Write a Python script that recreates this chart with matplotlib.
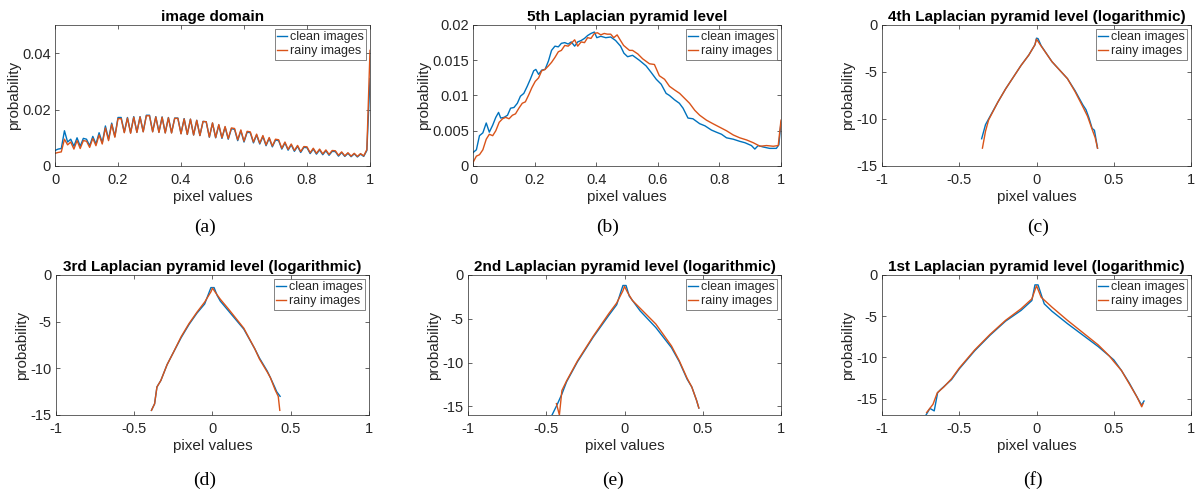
import numpy as np
import matplotlib
matplotlib.use('Agg')
import matplotlib.pyplot as plt
from matplotlib.ticker import FuncFormatter

plt.rcParams['font.family'] = ['Liberation Sans', 'DejaVu Sans']
plt.rcParams['axes.unicode_minus'] = False

BLUE = '#0072BD'
ORANGE = '#D95319'

# (a) image domain histogram, 101 bins over [0, 1]
bins_a = np.linspace(0, 1, 101)
clean_a = [0.0055, 0.0060, 0.0062, 0.0125, 0.0085, 0.0095, 0.0070, 0.0100, 0.0070, 0.0098,
           0.0095, 0.0072, 0.0105, 0.0078, 0.0118, 0.0082, 0.0142, 0.0095, 0.0152, 0.0105,
           0.0172, 0.0172, 0.0120, 0.0172, 0.0118, 0.0175, 0.0120, 0.0175, 0.0122, 0.0180,
           0.0180, 0.0122, 0.0175, 0.0120, 0.0174, 0.0118, 0.0172, 0.0118, 0.0170, 0.0170,
           0.0115, 0.0168, 0.0112, 0.0166, 0.0110, 0.0162, 0.0108, 0.0158, 0.0157, 0.0102,
           0.0152, 0.0100, 0.0145, 0.0098, 0.0138, 0.0095, 0.0132, 0.0130, 0.0090, 0.0125,
           0.0085, 0.0120, 0.0118, 0.0082, 0.0110, 0.0078, 0.0105, 0.0072, 0.0098, 0.0068,
           0.0092, 0.0090, 0.0060, 0.0082, 0.0056, 0.0075, 0.0052, 0.0070, 0.0048, 0.0066,
           0.0065, 0.0044, 0.0060, 0.0042, 0.0057, 0.0040, 0.0054, 0.0038, 0.0052, 0.0051,
           0.0035, 0.0048, 0.0034, 0.0045, 0.0033, 0.0043, 0.0032, 0.0042, 0.0034, 0.0055,
           0.0310]
rainy_a = [0.0045, 0.0048, 0.0050, 0.0095, 0.0075, 0.0085, 0.0060, 0.0090, 0.0062, 0.0090,
           0.0088, 0.0066, 0.0098, 0.0072, 0.0110, 0.0078, 0.0135, 0.0090, 0.0148, 0.0102,
           0.0168, 0.0168, 0.0118, 0.0170, 0.0116, 0.0173, 0.0119, 0.0174, 0.0121, 0.0178,
           0.0178, 0.0121, 0.0174, 0.0119, 0.0173, 0.0117, 0.0171, 0.0117, 0.0169, 0.0169,
           0.0114, 0.0167, 0.0112, 0.0166, 0.0110, 0.0162, 0.0108, 0.0158, 0.0157, 0.0103,
           0.0153, 0.0101, 0.0147, 0.0100, 0.0140, 0.0097, 0.0135, 0.0133, 0.0093, 0.0128,
           0.0088, 0.0123, 0.0121, 0.0085, 0.0113, 0.0081, 0.0108, 0.0075, 0.0101, 0.0071,
           0.0095, 0.0093, 0.0063, 0.0085, 0.0059, 0.0078, 0.0055, 0.0073, 0.0051, 0.0069,
           0.0068, 0.0047, 0.0063, 0.0045, 0.0060, 0.0043, 0.0057, 0.0041, 0.0055, 0.0054,
           0.0038, 0.0050, 0.0036, 0.0047, 0.0035, 0.0045, 0.0034, 0.0044, 0.0036, 0.0058,
           0.0410]

# (b) 5th Laplacian pyramid level
x_clean_b = [0.000, 0.011, 0.021, 0.032, 0.043, 0.053, 0.064, 0.074, 0.083, 0.090, 0.101, 0.112,
             0.122, 0.133, 0.144, 0.154, 0.165, 0.176, 0.186, 0.197, 0.204, 0.213, 0.223, 0.234,
             0.245, 0.255, 0.266, 0.277, 0.287, 0.298, 0.309, 0.319, 0.330, 0.340, 0.351, 0.362,
             0.372, 0.383, 0.394, 0.402, 0.415, 0.431, 0.447, 0.463, 0.479, 0.490, 0.502, 0.518,
             0.540, 0.562, 0.578, 0.595, 0.611, 0.627, 0.638, 0.654, 0.670, 0.682, 0.698, 0.714,
             0.736, 0.753, 0.774, 0.790, 0.807, 0.823, 0.845, 0.866, 0.883, 0.904, 0.915, 0.926,
             0.942, 0.963, 0.985, 0.993, 1.000]
y_clean_b = [0.0019, 0.0023, 0.0043, 0.0047, 0.0061, 0.0048, 0.0058, 0.0069, 0.0076, 0.0068, 0.0069, 0.0072,
             0.0082, 0.0083, 0.0089, 0.0099, 0.0103, 0.0113, 0.0123, 0.0135, 0.0137, 0.0130, 0.0136, 0.0137,
             0.0149, 0.0164, 0.0170, 0.0169, 0.0174, 0.0175, 0.0173, 0.0176, 0.0170, 0.0176, 0.0178, 0.0181,
             0.0185, 0.0188, 0.0190, 0.0182, 0.0184, 0.0182, 0.0183, 0.0178, 0.0170, 0.0160, 0.0155, 0.0157,
             0.0150, 0.0142, 0.0133, 0.0123, 0.0116, 0.0103, 0.0100, 0.0094, 0.0089, 0.0082, 0.0068, 0.0067,
             0.0060, 0.0057, 0.0051, 0.0048, 0.0045, 0.0040, 0.0038, 0.0035, 0.0033, 0.0029, 0.0024, 0.0029,
             0.0027, 0.0025, 0.0025, 0.0030, 0.0062]
x_rainy_b = [0.000, 0.011, 0.021, 0.032, 0.043, 0.053, 0.064, 0.074, 0.085, 0.096, 0.106, 0.117,
             0.128, 0.138, 0.149, 0.160, 0.170, 0.181, 0.191, 0.202, 0.213, 0.223, 0.234, 0.245,
             0.255, 0.266, 0.277, 0.287, 0.298, 0.309, 0.319, 0.330, 0.340, 0.351, 0.362, 0.372,
             0.383, 0.394, 0.404, 0.415, 0.426, 0.436, 0.447, 0.457, 0.468, 0.479, 0.489, 0.508,
             0.518, 0.535, 0.551, 0.573, 0.589, 0.605, 0.622, 0.638, 0.654, 0.671, 0.687, 0.703,
             0.720, 0.736, 0.758, 0.779, 0.801, 0.823, 0.845, 0.866, 0.888, 0.910, 0.932, 0.953,
             0.975, 0.991, 1.000]
y_rainy_b = [0.0005, 0.0014, 0.0016, 0.0023, 0.0038, 0.0045, 0.0043, 0.0050, 0.0062, 0.0067, 0.0069, 0.0067,
             0.0072, 0.0074, 0.0082, 0.0089, 0.0091, 0.0101, 0.0111, 0.0120, 0.0125, 0.0135, 0.0137, 0.0142,
             0.0147, 0.0154, 0.0162, 0.0164, 0.0171, 0.0170, 0.0174, 0.0179, 0.0170, 0.0176, 0.0175, 0.0182,
             0.0181, 0.0188, 0.0189, 0.0186, 0.0188, 0.0187, 0.0187, 0.0182, 0.0186, 0.0178, 0.0171, 0.0164,
             0.0164, 0.0159, 0.0152, 0.0145, 0.0144, 0.0128, 0.0123, 0.0113, 0.0108, 0.0103, 0.0096, 0.0089,
             0.0079, 0.0072, 0.0065, 0.0060, 0.0055, 0.0050, 0.0044, 0.0040, 0.0037, 0.0033, 0.0028, 0.0029,
             0.0028, 0.0029, 0.0065]

# (c) 4th level (log)
x_clean_c = [-0.355, -0.33, -0.31, -0.25, -0.20, -0.10, -0.05, -0.01, 0.0, 0.01, 0.03, 0.10,
             0.20, 0.25, 0.30, 0.32, 0.34, 0.36, 0.375, 0.395]
y_clean_c = [-12.1, -10.6, -10.0, -8.2, -6.8, -4.3, -3.2, -2.1, -1.4, -1.45, -2.2, -3.9,
             -5.7, -7.0, -8.5, -9.0, -9.9, -11.0, -11.2, -13.1]
x_rainy_c = [-0.35, -0.33, -0.31, -0.25, -0.20, -0.10, -0.05, -0.01, 0.0, 0.02, 0.10,
             0.20, 0.25, 0.30, 0.33, 0.36, 0.38, 0.395]
y_rainy_c = [-13.1, -11.3, -10.1, -8.2, -6.8, -4.3, -3.2, -2.1, -1.5, -2.0, -3.9,
             -5.7, -7.1, -8.7, -9.7, -11.1, -12.0, -13.1]

# (d) 3rd level (log)
x_clean_d = [-0.39, -0.37, -0.355, -0.33, -0.29, -0.25, -0.20, -0.15, -0.10, -0.05, -0.01, 0.01,
             0.03, 0.05, 0.10, 0.20, 0.27, 0.30, 0.35, 0.37, 0.40, 0.41, 0.432]
y_clean_d = [-14.5, -13.8, -12.0, -11.3, -9.6, -8.3, -6.7, -5.3, -4.1, -3.1, -1.35, -1.35,
             -2.2, -2.8, -3.8, -5.8, -7.9, -8.9, -10.3, -11.0, -12.1, -12.5, -13.0]
x_rainy_d = [-0.39, -0.37, -0.355, -0.33, -0.29, -0.25, -0.20, -0.15, -0.10, -0.05, -0.01, 0.0,
             0.02, 0.05, 0.10, 0.20, 0.27, 0.30, 0.35, 0.37, 0.40, 0.42, 0.43]
y_rainy_d = [-14.5, -13.8, -12.0, -11.3, -9.6, -8.3, -6.6, -5.2, -4.0, -2.9, -1.8, -1.4,
             -1.9, -2.6, -3.6, -5.7, -7.9, -9.0, -10.4, -11.0, -12.3, -13.0, -14.5]

# (e) 2nd level (log)
x_clean_e = [-0.463, -0.43, -0.40, -0.37, -0.30, -0.25, -0.20, -0.10, -0.05, -0.01, 0.01,
             0.03, 0.10, 0.20, 0.30, 0.35, 0.40, 0.43, 0.46, 0.475]
y_clean_e = [-16.0, -14.8, -13.6, -12.2, -9.9, -8.5, -7.1, -4.6, -3.4, -1.2, -1.2,
             -2.4, -4.1, -6.0, -8.3, -9.9, -11.9, -12.8, -14.3, -15.2]
x_rainy_e = [-0.435, -0.416, -0.40, -0.37, -0.30, -0.25, -0.20, -0.10, -0.05, -0.01, 0.0,
             0.02, 0.05, 0.10, 0.20, 0.30, 0.35, 0.40, 0.43, 0.46, 0.475]
y_rainy_e = [-14.7, -16.0, -13.2, -12.1, -9.8, -8.4, -7.0, -4.4, -3.2, -1.8, -1.3,
             -2.0, -2.9, -3.8, -5.6, -8.1, -9.8, -11.8, -12.8, -14.3, -15.2]

# (f) 1st level (log)
x_clean_f = [-0.715, -0.69, -0.662, -0.64, -0.62, -0.55, -0.50, -0.40, -0.30, -0.20, -0.10, -0.03,
             -0.01, 0.01, 0.05, 0.10, 0.20, 0.30, 0.40, 0.50, 0.55, 0.60, 0.65, 0.68, 0.696]
y_clean_f = [-17.0, -16.2, -16.5, -14.3, -13.9, -12.7, -11.4, -9.2, -7.3, -5.6, -4.3, -3.1,
             -1.2, -1.2, -3.5, -4.4, -5.9, -7.3, -8.7, -10.3, -11.6, -13.1, -14.8, -15.8, -15.3]
x_rainy_f = [-0.711, -0.67, -0.642, -0.60, -0.55, -0.50, -0.40, -0.30, -0.20, -0.10, -0.03,
             0.0, 0.03, 0.10, 0.20, 0.30, 0.40, 0.47, 0.50, 0.55, 0.60, 0.65, 0.681, 0.69]
y_rainy_f = [-16.7, -15.7, -14.3, -13.6, -12.6, -11.3, -9.1, -7.2, -5.5, -4.1, -2.9,
             -1.3, -2.7, -3.9, -5.5, -7.0, -8.5, -9.8, -10.5, -11.6, -13.2, -14.8, -16.0, -15.6]

titles = ['image domain', '5th Laplacian pyramid level',
          '4th Laplacian pyramid level (logarithmic)', '3rd Laplacian pyramid level (logarithmic)',
          '2nd Laplacian pyramid level (logarithmic)', '1st Laplacian pyramid level (logarithmic)']
captions = ['(a)', '(b)', '(c)', '(d)', '(e)', '(f)']

W, H = 1196, 495
fig = plt.figure(figsize=(W / 100, H / 100), dpi=100)

# axes boxes in pixels: x0, x1, ytop, ybottom
boxes = [(55, 370, 25, 166), (473, 781, 25, 166), (882, 1191, 25, 166),
         (56, 369, 275, 415), (468, 781, 275, 415), (882, 1191, 275, 415)]
cap_pos = [(205, 227), (608, 227), (1038, 227), (205, 480), (613, 480), (1033, 480)]

series = [
    (bins_a, clean_a, bins_a, rainy_a),
    (x_clean_b, y_clean_b, x_rainy_b, y_rainy_b),
    (x_clean_c, y_clean_c, x_rainy_c, y_rainy_c),
    (x_clean_d, y_clean_d, x_rainy_d, y_rainy_d),
    (x_clean_e, y_clean_e, x_rainy_e, y_rainy_e),
    (x_clean_f, y_clean_f, x_rainy_f, y_rainy_f),
]
xlims = [(0, 1), (0, 1), (-1, 1), (-1, 1), (-1, 1), (-1, 1)]
ylims = [(0, 0.05), (0, 0.02), (-15, 0), (-15, 0), (-16, 0), (-17, 0)]
yticks = [[0, 0.02, 0.04], [0, 0.005, 0.01, 0.015, 0.02],
          [-15, -10, -5, 0], [-15, -10, -5, 0], [-15, -10, -5, 0], [-15, -10, -5, 0]]

fmt = FuncFormatter(lambda v, p: '%g' % v)

for i, (x0, x1, yt, yb) in enumerate(boxes):
    ax = fig.add_axes([x0 / W, 1 - yb / H, (x1 - x0) / W, (yb - yt) / H])
    xc, yc, xr, yr = series[i]
    ax.plot(xc, yc, color=BLUE, lw=1.0, label='clean images')
    ax.plot(xr, yr, color=ORANGE, lw=1.0, label='rainy images')
    ax.set_xlim(*xlims[i])
    ax.set_ylim(*ylims[i])
    if xlims[i][0] == 0:
        ax.set_xticks([0, 0.2, 0.4, 0.6, 0.8, 1])
    else:
        ax.set_xticks([-1, -0.5, 0, 0.5, 1])
    ax.set_yticks(yticks[i])
    ax.xaxis.set_major_formatter(fmt)
    ax.yaxis.set_major_formatter(fmt)
    ax.tick_params(direction='in', length=3, width=0.5, labelsize=10.5, colors='#262626',
                   top=True, right=True)
    ax.tick_params(axis='x', pad=5)
    ax.tick_params(axis='y', pad=3)
    for s in ax.spines.values():
        s.set_color('#262626')
        s.set_linewidth(0.5)
    ax.set_title(titles[i], fontsize=11, fontweight='bold', pad=3)
    ax.set_xlabel('pixel values', fontsize=11, color='#262626', labelpad=2)
    ax.set_ylabel('probability', fontsize=11, color='#262626', labelpad=1)
    leg = ax.legend(loc='upper right', fontsize=9, frameon=True, fancybox=False,
                    handlelength=0.8, handletextpad=0.2, borderpad=0.2,
                    labelspacing=0.15, borderaxespad=0.3)
    leg.get_frame().set_edgecolor('#262626')
    leg.get_frame().set_linewidth(0.5)
    for t in leg.get_texts():
        t.set_color('#262626')
    cx, cy = cap_pos[i]
    fig.text(cx / W, 1 - cy / H, captions[i], ha='center', va='center',
             fontsize=14, family='Liberation Serif')

fig.savefig('out.png', dpi=100)
